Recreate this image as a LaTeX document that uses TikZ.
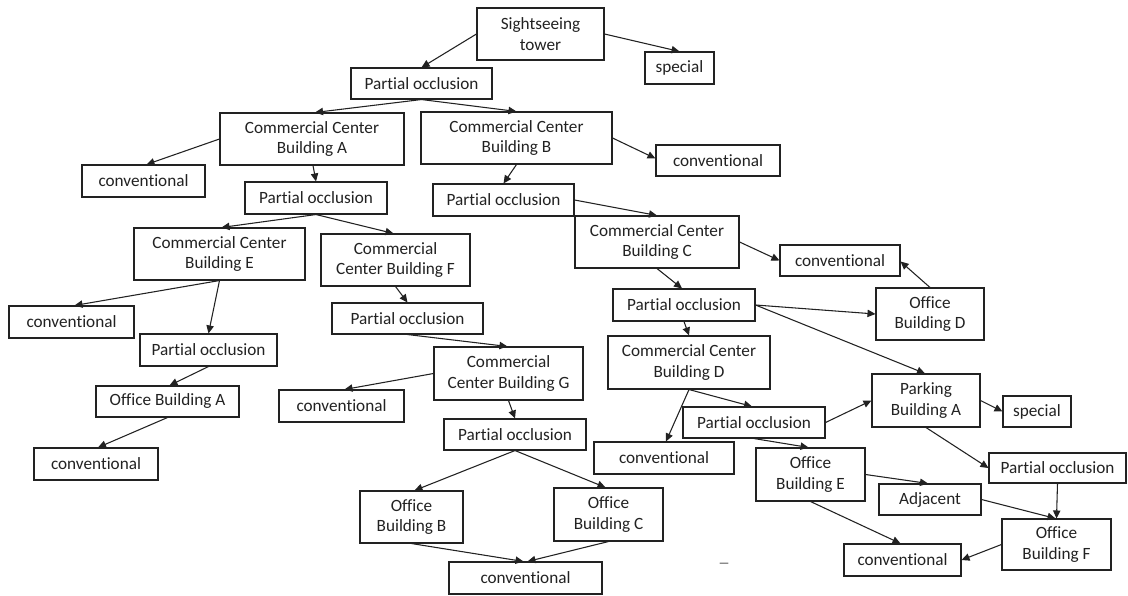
\documentclass[tikz,border=0pt]{standalone}
\usepackage{fontspec}
\setmainfont{Carlito}[Ligatures=NoCommon]
\usetikzlibrary{arrows.meta,calc}
\definecolor{ink}{RGB}{34,34,34}
\newcommand\bx[6]{\node[box, minimum width={(#4-#2)*0.75pt}, minimum height={(#5-#3)*0.75pt}] (#1) at ({(#2+#4)/2},{(#3+#5)/2}) {#6};}
\tikzset{
  box/.style={draw=ink, line width=0.8pt, inner sep=0pt, align=center, text=ink,
    font=\fontsize{12.9}{15.5}\selectfont},
  conn/.style={draw=ink, line width=0.8pt, -{Triangle[length=6pt,width=5.5pt]}}
}
\begin{document}
\begin{tikzpicture}[x=0.75pt,y=-0.75pt]
\useasboundingbox (0,0) rectangle (1128,596);
\fill[white] (0,0) rectangle (1128,596);
\bx{tower}{477}{8}{604}{60}{Sightseeing\\tower}
\bx{spA}{645}{52}{714}{84}{special}
\bx{pOne}{351}{68}{492}{99}{Partial occlusion}
\bx{ccA}{220}{113}{404}{165}{Commercial Center\\Building A}
\bx{ccB}{421}{112}{612}{164}{Commercial Center\\Building B}
\bx{cvA}{82}{165}{205}{197}{conventional}
\bx{cvB}{656}{145}{780}{176}{conventional}
\bx{pA}{245}{182}{387}{214}{Partial occlusion}
\bx{pB}{433}{184}{574}{216}{Partial occlusion}
\bx{ccC}{575}{216}{739}{268}{Commercial Center\\Building C}
\bx{ccE}{134}{228}{305}{280}{Commercial Center\\Building E}
\bx{ccF}{321}{234}{470}{286}{Commercial\\Center Building F}
\bx{cvC}{780}{245}{900}{276}{conventional}
\bx{pC}{613}{289}{755}{321}{Partial occlusion}
\bx{obD}{876}{288}{984}{340}{Office\\Building D}
\bx{cvE}{9}{306}{134}{338}{conventional}
\bx{pF}{332}{303}{483}{334}{Partial occlusion}
\bx{pE}{140}{334}{277}{366}{Partial occlusion}
\bx{ccD}{608}{336}{770}{389}{Commercial Center\\Building D}
\bx{ccG}{434}{347}{583}{400}{Commercial\\Center Building G}
\bx{pkA}{872}{374}{980}{427}{Parking\\Building A}
\bx{spB}{1003}{396}{1071}{427}{special}
\bx{obA}{96}{386}{239}{417}{Office Building A}
\bx{cvG}{279}{390}{404}{422}{conventional}
\bx{pD}{683}{407}{825}{438}{Partial occlusion}
\bx{pG}{444}{419}{586}{450}{Partial occlusion}
\bx{cvD}{594}{442}{734}{474}{conventional}
\bx{obE}{756}{448}{865}{501}{Office\\Building E}
\bx{cvOA}{34}{448}{158}{480}{conventional}
\bx{pP}{989}{453}{1126}{483}{Partial occlusion}
\bx{adj}{879}{484}{981}{515}{Adjacent}
\bx{obB}{360}{491}{463}{543}{Office\\Building B}
\bx{obC}{554}{488}{663}{541}{Office\\Building C}
\bx{obF}{1002}{519}{1111}{570}{Office\\Building F}
\bx{cvBR}{844}{544}{961}{576}{conventional}
\bx{cvBot}{449}{562}{602}{594}{conventional}
\node[text=gray!80!black, xscale=1.4, font=\fontsize{12.9}{15.5}\selectfont] (dash) at (724,566) {–};
% connectors
\draw[conn] (tower.west) -- (pOne.north);
\draw[conn] (tower.east) -- (spA.north);
\draw[conn] (pOne.south) -- ($(ccA.north)+(3,0)$);
\draw[conn] (pOne.south) -- (ccB.north);
\draw[conn] (ccA.west) -- ($(cvA.north)+(3,0)$);
\draw[conn] ($(ccA.south)+(1,0)$) -- (pA.north);
\draw[conn] (ccB.east) -- ($(cvB.west)+(0,-2)$);
\draw[conn] (ccB.south) -- (pB.north);
\draw[conn] (pB.east) -- (ccC.north);
\draw[conn] (pA.south) -- ($(ccE.north)+(2,0)$);
\draw[conn] (pA.south) -- ($(ccF.north)+(-2,0)$);
\draw[conn] (ccE.south) -- ($(cvE.north)+(3,0)$);
\draw[conn] (ccE.south) -- (pE.north);
\draw[conn] (ccF.south) -- (pF.north);
\draw[conn] (pF.south) -- ($(ccG.north)+(-1,0)$);
\draw[conn] (pE.south) -- ($(obA.north)+(2,0)$);
\draw[conn] (obA.south) -- ($(cvOA.north)+(2,0)$);
\draw[conn] (ccG.west) -- ($(cvG.north)+(3,0)$);
\draw[conn] (ccG.south) -- (pG.north);
\draw[conn] (pG.south) -- ($(obB.north)+(3,0)$);
\draw[conn] (pG.south) -- ($(obC.north)+(-3,0)$);
\draw[conn] (obB.south) -- ($(cvBot.north)+(-2,0)$);
\draw[conn] (obC.south) -- ($(cvBot.north)+(2,0)$);
\draw[conn] (ccC.east) -- (cvC.west);
\draw[conn] (ccC.south) -- ($(pC.north)+(-2,0)$);
\draw[conn] (obD.north) -- ($(cvC.east)+(0,1)$);
\draw[conn] (pC.east) -- (obD.west);
\draw[conn] (pC.east) -- ($(pkA.north)+(-1,0)$);
\draw[conn] (pC.south) -- (ccD.north);
\draw[conn] (ccD.south) -- ($(cvD.north)+(2,0)$);
\draw[conn] (ccD.south) -- ($(pD.north)+(-2,0)$);
\draw[conn] (pD.east) -- (pkA.west);
\draw[conn] (pD.south) -- ($(obE.north)+(-2,0)$);
\draw[conn] (pkA.east) -- (spB.west);
\draw[conn] (pkA.south) -- (pP.west);
\draw[conn] (obE.east) -- ($(adj.north)+(-2,0)$);
\draw[conn] (obE.south) -- ($(cvBR.north)+(-2,0)$);
\draw[conn] (adj.east) -- ($(obF.north)+(-1,0)$);
\draw[conn] (pP.south) -- (obF.north);
\draw[conn] (obF.west) -- (cvBR.east);
\end{tikzpicture}
\end{document}
